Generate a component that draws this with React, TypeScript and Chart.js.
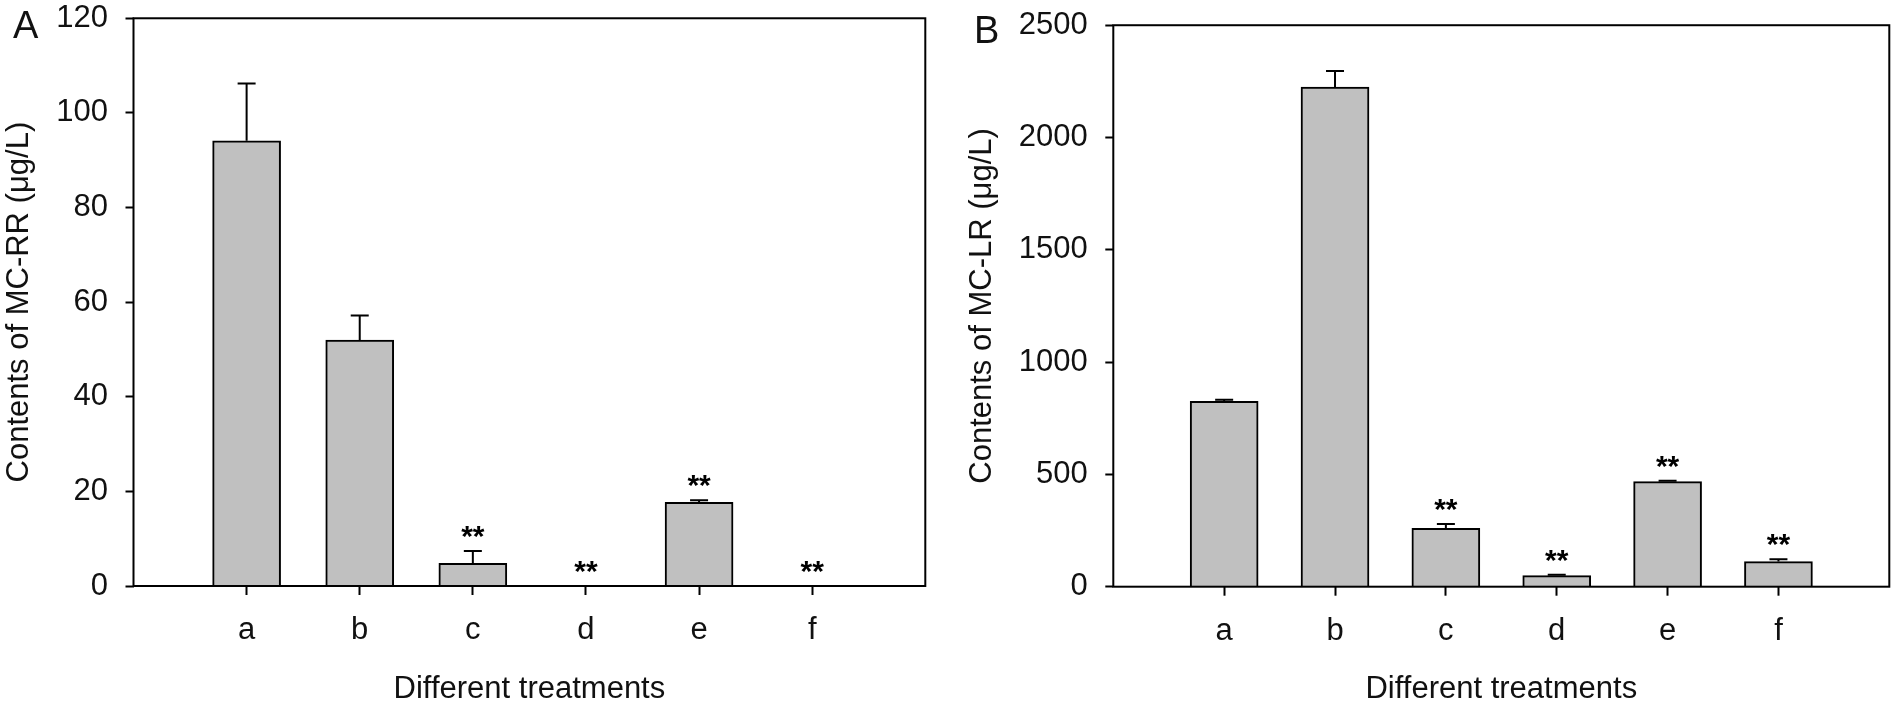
import React, { useEffect, useRef } from 'react';
import { Chart, registerables } from 'chart.js';

Chart.register(...registerables);

const FONT = "'Liberation Sans', Arial, Helvetica, sans-serif";

// ---- data ----
const categories = ['a', 'b', 'c', 'd', 'e', 'f'];

const rrMeans = [94.1, 52.0, 4.8, 0, 17.7, 0];
const rrErrors = [12.1, 5.2, 2.6, 0, 0.4, 0];
const rrSignificant = [false, false, true, true, true, true];
const rrTicks = [0, 20, 40, 60, 80, 100, 120];

const lrMeans = [825, 2225, 260, 49, 468, 112];
const lrErrors = [7, 71, 19, 4, 4, 10];
const lrSignificant = [false, false, true, true, true, true];
const lrTicks = [0, 500, 1000, 1500, 2000, 2500];

const xTitle = 'Different treatments';

type Panel = {
  letter: string;
  yTitle: string;
  means: number[];
  errors: number[];
  sig: boolean[];
  ticks: number[];
  canvasLeft: number;
  yAxisWidth: number;
  padRight: number;
  padTop: number;
  xAxisHeight: number;
  letterX: number;
  letterY: number;
  yTitleX: number;
};

const panels: Panel[] = [
  {
    letter: 'A',
    yTitle: 'Contents of MC-RR (μg/L)',
    means: rrMeans,
    errors: rrErrors,
    sig: rrSignificant,
    ticks: rrTicks,
    canvasLeft: 0,
    yAxisWidth: 133.5,
    padRight: 20.7,
    padTop: 16.7,
    xAxisHeight: 122,
    letterX: 13,
    letterY: 38,
    yTitleX: 28,
  },
  {
    letter: 'B',
    yTitle: 'Contents of MC-LR (μg/L)',
    means: lrMeans,
    errors: lrErrors,
    sig: lrSignificant,
    ticks: lrTicks,
    canvasLeft: 946,
    yAxisWidth: 167.3,
    padRight: 2.7,
    padTop: 26,
    xAxisHeight: 121.3,
    letterX: 28,
    letterY: 42.7,
    yTitleX: 45,
  },
];

const Y_LABEL_LH = 0.05;

function makeDecor(p: Panel) {
  return {
    id: 'decor' + p.letter,
    afterDatasetsDraw(chart: any) {
      const { ctx, chartArea, scales } = chart;
      const x = scales.x;
      const y = scales.y;
      ctx.save();
      ctx.strokeStyle = '#000';
      ctx.fillStyle = '#000';
      ctx.lineWidth = 2;
      p.means.forEach((m, i) => {
        const e = p.errors[i];
        const px = x.getPixelForValue(i + 1);
        const y0 = y.getPixelForValue(m);
        const y1 = y.getPixelForValue(m + e);
        if (e > 0) {
          ctx.beginPath();
          ctx.moveTo(px, y0);
          ctx.lineTo(px, y1);
          ctx.moveTo(px - 9, y1);
          ctx.lineTo(px + 9, y1);
          ctx.stroke();
        }
        if (p.sig[i]) {
          ctx.font = `bold 30px ${FONT}`;
          ctx.textAlign = 'center';
          ctx.textBaseline = 'alphabetic';
          ctx.fillText('**', px, y1 - 5);
        }
      });
      // frame
      ctx.lineWidth = 2;
      ctx.strokeRect(
        chartArea.left,
        chartArea.top,
        chartArea.right - chartArea.left,
        chartArea.bottom - chartArea.top
      );
      ctx.restore();
    },
    afterDraw(chart: any) {
      const { ctx, chartArea } = chart;
      ctx.save();
      ctx.fillStyle = '#111';
      // panel letter
      ctx.font = `38px ${FONT}`;
      ctx.textAlign = 'left';
      ctx.textBaseline = 'alphabetic';
      ctx.fillText(p.letter, p.letterX, p.letterY);
      // x title
      ctx.font = `31px ${FONT}`;
      ctx.textAlign = 'center';
      ctx.fillText(xTitle, (chartArea.left + chartArea.right) / 2, 698);
      // y title
      ctx.translate(p.yTitleX, (chartArea.top + chartArea.bottom) / 2);
      ctx.rotate(-Math.PI / 2);
      ctx.fillText(p.yTitle, 0, 0);
      ctx.restore();
    },
  };
}

function PanelChart({ p }: { p: Panel }) {
  const ref = useRef<HTMLCanvasElement | null>(null);
  useEffect(() => {
    if (!ref.current) return;
    const yMax = p.ticks[p.ticks.length - 1];
    const step = p.ticks[1] - p.ticks[0];
    const labelHalf = (31 * Y_LABEL_LH) / 2;
    const chart = new Chart(ref.current, {
      type: 'bar',
      data: {
        datasets: [
          {
            data: p.means.map((m, i) => ({ x: i + 1, y: m })),
            backgroundColor: '#c0c0c0',
            borderColor: '#000',
            borderWidth: 2,
            barThickness: 68,
          } as any,
        ],
      },
      options: {
        animation: false,
        responsive: true,
        maintainAspectRatio: false,
        devicePixelRatio: 1,
        layout: {
          padding: { left: 0, right: p.padRight, top: p.padTop - labelHalf, bottom: 0 },
        },
        plugins: { legend: { display: false }, tooltip: { enabled: false } },
        scales: {
          x: {
            type: 'linear',
            min: 0,
            max: categories.length + 1,
            offset: false,
            afterBuildTicks: (scale: any) => {
              scale.ticks = categories.map((_, i) => ({ value: i + 1 }));
            },
            afterFit: (scale: any) => {
              scale.height = p.xAxisHeight;
            },
            grid: {
              offset: false,
              drawOnChartArea: false,
              drawTicks: true,
              tickLength: 9,
              tickWidth: 2,
              tickColor: '#000',
            },
            border: { display: false },
            ticks: {
              autoSkip: false,
              maxRotation: 0,
              padding: 20,
              color: '#111',
              font: { family: FONT, size: 31, lineHeight: 1 },
              callback: (v: any) => categories[Number(v) - 1] ?? '',
            },
          },
          y: {
            type: 'linear',
            min: 0,
            max: yMax,
            afterBuildTicks: (scale: any) => {
              scale.ticks = p.ticks.map((v) => ({ value: v }));
            },
            afterFit: (scale: any) => {
              scale.width = p.yAxisWidth;
            },
            grid: {
              drawOnChartArea: false,
              drawTicks: true,
              tickLength: 8,
              tickWidth: 2,
              tickColor: '#000',
            },
            border: { display: false },
            ticks: {
              stepSize: step,
              padding: 17.5,
              color: '#111',
              font: { family: FONT, size: 31, lineHeight: Y_LABEL_LH },
              callback: (v: any) => String(v),
            },
          },
        },
      } as any,
      plugins: [makeDecor(p)],
    });
    return () => chart.destroy();
  }, [p]);
  return (
    <div
      style={{
        position: 'absolute',
        left: p.canvasLeft,
        top: 0,
        width: 946,
        height: 708,
      }}
    >
      <canvas ref={ref} />
    </div>
  );
}

export default function App() {
  return (
    <div
      style={{
        position: 'absolute',
        left: 0,
        top: 0,
        width: 1892,
        height: 708,
        background: '#fff',
        overflow: 'hidden',
      }}
    >
      {panels.map((p) => (
        <PanelChart key={p.letter} p={p} />
      ))}
    </div>
  );
}
